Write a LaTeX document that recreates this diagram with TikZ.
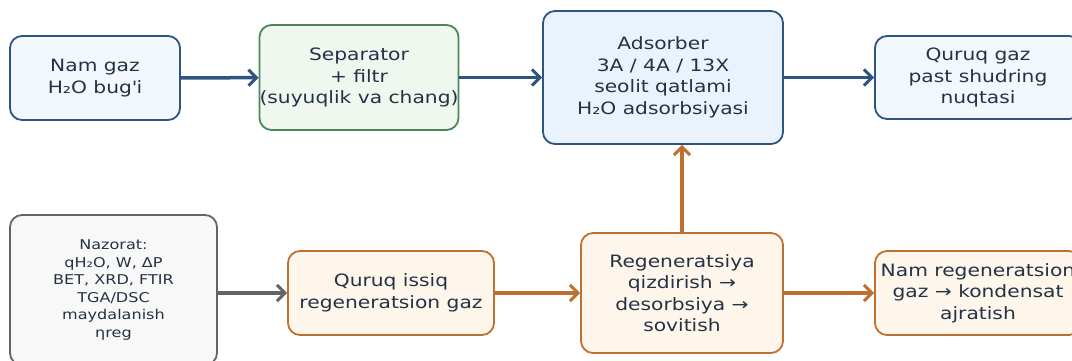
\documentclass[tikz,border=0pt]{standalone}
\usepackage{fontspec}
\setmainfont[FakeStretch=1.19]{DejaVu Sans}
\usepackage{xcolor}
\usepackage{tikz}
\usetikzlibrary{arrows.meta, positioning, calc}
\definecolor{flowblue}{RGB}{46, 84, 130}
\definecolor{flowgreen}{RGB}{74, 135, 90}
\definecolor{flowgray}{RGB}{100, 100, 100}
\definecolor{floworange}{RGB}{190, 112, 48}
\definecolor{flowtext}{RGB}{36, 50, 70}
\definecolor{fillblue}{RGB}{243, 248, 254}
\definecolor{filladsorb}{RGB}{234, 243, 253}
\definecolor{fillgreen}{RGB}{239, 247, 238}
\definecolor{fillgray}{RGB}{248, 248, 248}
\definecolor{fillorange}{RGB}{254, 246, 234}

\tikzset{
  box/.style={rounded corners=12pt, line width=1.8pt, align=center, inner sep=0pt,
              text=flowtext, font=\fontsize{17}{21.5}\selectfont},
  bluebox/.style={box, draw=flowblue, fill=fillblue},
  greenbox/.style={box, draw=flowgreen, fill=fillgreen},
  graybox/.style={box, draw=flowgray, fill=fillgray, font=\fontsize{13.5}{17.6}\selectfont},
  orangebox/.style={box, draw=floworange, fill=fillorange},
  flow/.style={line width=3.5pt, -{Straight Barb[length=8pt, width=16pt, line width=3pt]}},
}

\begin{document}
\begin{tikzpicture}[x=1pt, y=-1pt]
  \useasboundingbox (0,0) rectangle (1072,360);

  % top row: drying line
  \node[bluebox, minimum width=170pt, minimum height=84pt] (wetgas) at (95,78) {Nam gaz\\H₂O bug\textquotesingle i};
  \node[greenbox, minimum width=196pt, minimum height=105pt] (separator) at (359,77.5) {Separator\\+ filtr\\(suyuqlik va chang)};
  \node[bluebox, fill=filladsorb, minimum width=240pt, minimum height=133pt] (adsorber) at (663,77.5) {Adsorber\\3A / 4A / 13X\\seolit qatlami\\H₂O adsorbsiyasi};
  \node[bluebox, minimum width=206pt, minimum height=83pt] (drygas) at (978,77.5) {Quruq gaz\\past shudring\\nuqtasi};

  % bottom row: regeneration line
  \node[graybox, minimum width=207pt, minimum height=150pt] (control) at (113.5,290) {Nazorat:\\qH₂O, W, ΔP\\BET, XRD, FTIR\\TGA/DSC\\maydalanish\\ηreg};
  \node[orangebox, minimum width=206pt, minimum height=84pt] (hotgas) at (391,293) {Quruq issiq\\regeneratsion gaz};
  \node[orangebox, minimum width=202pt, minimum height=120pt] (regen) at (682,293) {Regeneratsiya\\qizdirish →\\desorbsiya →\\sovitish};
  \node[orangebox, minimum width=206pt, minimum height=84pt] (condensate) at (978,293) {Nam regeneratsion\\gaz → kondensat\\ajratish};

  \draw[flow, flowblue] (wetgas) -- (separator);
  \draw[flow, flowblue] (separator) -- (adsorber);
  \draw[flow, flowblue] (adsorber) -- (drygas);
  \draw[flow, flowgray] (control.east |- hotgas) -- (hotgas);
  \draw[flow, floworange] (hotgas) -- (regen);
  \draw[flow, floworange] (regen) -- (condensate);
  \draw[flow, floworange] (regen.north) -- (regen.north |- adsorber.south);
\end{tikzpicture}
\end{document}
